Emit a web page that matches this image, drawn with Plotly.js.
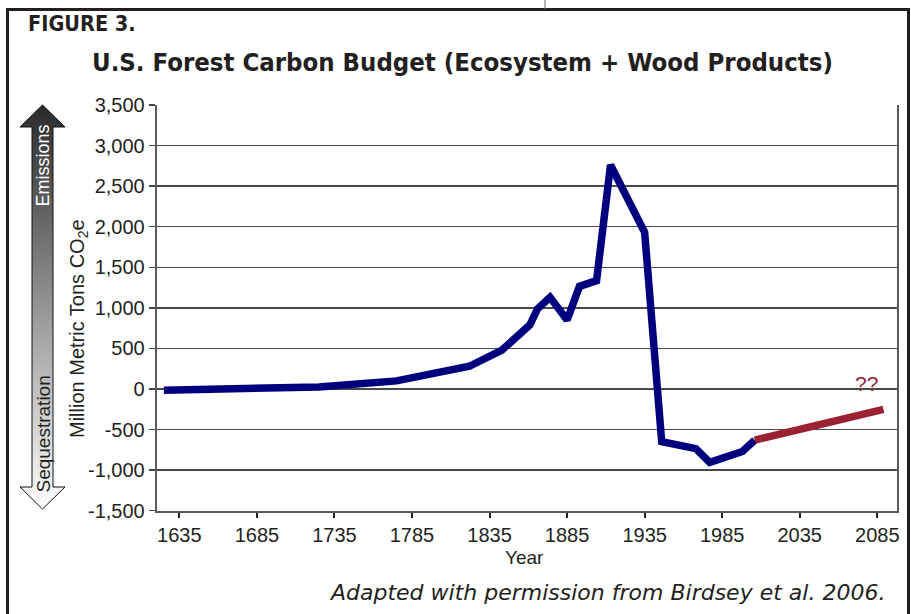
<!DOCTYPE html>
<html>
<head>
<meta charset="utf-8">
<script src="https://cdn.plot.ly/plotly-3.0.1.min.js"></script>
<style>html,body{margin:0;padding:0;background:#fff;}#chart{width:911px;height:614px;}</style>
</head>
<body>
<div id="chart"></div>
<script>
// ---- data ----
const histYears = [1625, 1675, 1725, 1775, 1822, 1843, 1861, 1866, 1874, 1885, 1893, 1904, 1913, 1935, 1946, 1968, 1977, 1998, 2006];
const histValues = [-15, 5, 25, 100, 280, 480, 790, 990, 1130, 850, 1265, 1335, 2760, 1930, -650, -735, -905, -770, -630];
const projYears = [2006, 2025, 2045, 2065, 2089];
const projValues = [-630, -540, -440, -345, -250];
const xTickVals = [1635, 1685, 1735, 1785, 1835, 1885, 1935, 1985, 2035, 2085];
const yTickVals = [-1500, -1000, -500, 0, 500, 1000, 1500, 2000, 2500, 3000, 3500];
const yTickText = ["-1,500", "-1,000", "-500", "0", "500", "1,000", "1,500", "2,000", "2,500", "3,000", "3,500"];

const W = 911, H = 614;
const px = v => v / W;
const py = v => 1 - v / H;

const BLUE = '#00007f';
const RED = '#9b2235';
const TXT = '#231f20';
const FONT = 'Liberation Sans, Arial, sans-serif';
const COND = 'DejaVu Sans Condensed, Liberation Sans Narrow, sans-serif';

const traces = [
  {
    // gradient double arrow (decoration)
    x: [42.5, 65, 53, 53, 65, 42.5, 20, 32, 32, 20, 42.5],
    y: [105, 127, 127, 487, 487, 509, 487, 487, 127, 127, 105],
    xaxis: 'x2', yaxis: 'y2',
    type: 'scatter', mode: 'lines', fill: 'toself',
    line: {color: '#111', width: 1},
    fillgradient: {type: 'vertical', colorscale: [[0, '#ffffff'], [1, '#2a2a2a']], start: 509, stop: 105},
    hoverinfo: 'skip', showlegend: false
  },
  {
    x: histYears, y: histValues, type: 'scatter', mode: 'lines',
    line: {color: BLUE, width: 7.5}, showlegend: false
  },
  {
    x: projYears, y: projValues, type: 'scatter', mode: 'lines',
    line: {color: RED, width: 7.5}, showlegend: false
  }
];

const layout = {
  width: W, height: H,
  margin: {l: 0, r: 0, t: 0, b: 0},
  paper_bgcolor: '#fff', plot_bgcolor: 'rgba(0,0,0,0)',
  showlegend: false,
  font: {family: FONT, color: TXT, size: 20},
  xaxis: {
    domain: [px(156.7), px(897.3)],
    range: [1620.4, 2097.9],
    tickvals: xTickVals,
    ticktext: xTickVals.map(String),
    ticks: 'outside', ticklen: 5, tickwidth: 2, tickcolor: '#222',
    showline: true, linecolor: '#5a5a5a', linewidth: 2,
    showgrid: false, zeroline: false,
    tickfont: {family: FONT, size: 20, color: TXT},
    anchor: 'y'
  },
  xaxis3: {
    overlaying: 'x', matches: 'x', anchor: 'y',
    tickvals: xTickVals, ticks: 'inside', ticklen: 5, tickwidth: 2, tickcolor: '#222',
    showticklabels: false, showline: false, showgrid: false, zeroline: false
  },
  yaxis: {
    domain: [1 - 510.7 / H, 1 - 105 / H],
    range: [-1500, 3500],
    tickvals: yTickVals, ticktext: yTickText,
    ticks: 'outside', ticklen: 6, tickwidth: 1.5, tickcolor: '#444',
    showline: true, linecolor: '#5a5a5a', linewidth: 2, mirror: true,
    showgrid: true, gridcolor: '#4a4a4a', gridwidth: 1.3,
    zeroline: false,
    tickfont: {family: FONT, size: 20, color: TXT},
    anchor: 'x'
  },
  xaxis2: {domain: [0, px(80)], range: [0, 80], visible: false, fixedrange: true, anchor: 'y2'},
  yaxis2: {domain: [0, 1], range: [H, 0], visible: false, fixedrange: true, anchor: 'x2'},
  shapes: [
    {type: 'line', xref: 'paper', yref: 'paper', x0: px(7.5), x1: px(7.5), y0: py(9), y1: py(620), line: {color: '#231f20', width: 3}},
    {type: 'line', xref: 'paper', yref: 'paper', x0: px(6), x1: px(910), y0: py(9.5), y1: py(9.5), line: {color: '#231f20', width: 3}},
    {type: 'line', xref: 'paper', yref: 'paper', x0: px(908.5), x1: px(908.5), y0: py(9), y1: py(620), line: {color: '#231f20', width: 3}},
    {type: 'line', xref: 'paper', yref: 'paper', x0: px(545), x1: px(545), y0: py(0), y1: py(9), line: {color: '#666', width: 1}}
  ],
  annotations: [
    {text: '<b>FIGURE 3.</b>', xref: 'paper', yref: 'paper', x: px(26), y: py(23), xanchor: 'left', yanchor: 'middle', showarrow: false,
     font: {family: COND, size: 21.5, color: TXT}},
    {text: '<b>U.S. Forest Carbon Budget (Ecosystem + Wood Products)</b>', xref: 'paper', yref: 'paper', x: px(462), y: py(62), xanchor: 'center', yanchor: 'middle', showarrow: false,
     font: {family: COND, size: 25.5, color: TXT}},
    {text: 'Million Metric Tons CO<sub>2</sub>e', xref: 'paper', yref: 'paper', x: px(78), y: py(329), xanchor: 'center', yanchor: 'middle', textangle: -90, showarrow: false,
     font: {family: FONT, size: 20, color: TXT}},
    {text: 'Emissions', xref: 'paper', yref: 'paper', x: px(42.5), y: py(166), xanchor: 'center', yanchor: 'middle', textangle: -90, showarrow: false,
     font: {family: FONT, size: 18, color: '#ffffff'}},
    {text: 'Sequestration', xref: 'paper', yref: 'paper', x: px(42.5), y: py(434), xanchor: 'center', yanchor: 'middle', textangle: -90, showarrow: false,
     font: {family: FONT, size: 19, color: TXT}},
    {text: 'Year', xref: 'paper', yref: 'paper', x: px(524), y: py(557), xanchor: 'center', yanchor: 'middle', showarrow: false,
     font: {family: FONT, size: 19, color: TXT}},
    {text: '<i>Adapted with permission from Birdsey et al. 2006.</i>', xref: 'paper', yref: 'paper', x: px(887), y: py(592), xanchor: 'right', yanchor: 'middle', showarrow: false,
     font: {family: 'DejaVu Sans, sans-serif', size: 22, color: TXT}},
    {text: '??', xref: 'x', yref: 'y', x: 2078, y: 65, xanchor: 'center', yanchor: 'middle', showarrow: false,
     font: {family: FONT, size: 21, color: RED}}
  ]
};

Plotly.newPlot('chart', traces, layout, {displayModeBar: false, staticPlot: true});
</script>
</body>
</html>
